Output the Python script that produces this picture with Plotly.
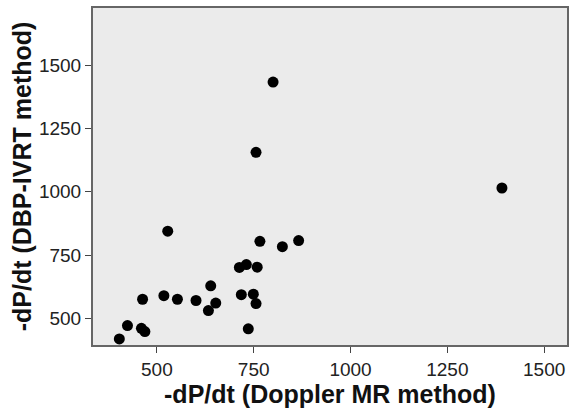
import plotly.graph_objects as go

# -dP/dt values
doppler_mr = [800, 756, 1391, 528, 766, 824, 866, 713, 731, 759, 639, 518, 463, 553,
              601, 652, 633, 718, 749, 756, 736, 424, 460, 469, 403]
dbp_ivrt = [1434, 1156, 1015, 844, 804, 783, 807, 701, 712, 702, 628, 589, 575, 575,
            570, 560, 530, 593, 595, 558, 458, 471, 460, 447, 418]

x_ticks = [500, 750, 1000, 1250, 1500]
y_ticks = [500, 750, 1000, 1250, 1500]

FONT = "Liberation Sans, Arial, sans-serif"

fig = go.Figure()
fig.add_trace(go.Scatter(
    x=doppler_mr, y=dbp_ivrt, mode="markers",
    marker=dict(color="black", size=11, line=dict(width=0)),
    showlegend=False,
))

axis_common = dict(
    showgrid=False, zeroline=False, automargin=False,
    showline=True, linecolor="#666666", linewidth=2, mirror=True,
    ticks="outside", ticklen=6, tickcolor="#444444", tickwidth=1,
    tickfont=dict(family=FONT, size=19, color="#222222"),
)

fig.update_layout(
    width=573, height=411,
    margin=dict(l=93, r=6, t=8, b=66),
    paper_bgcolor="white",
    plot_bgcolor="#ebebeb",
    xaxis=dict(
        range=[335, 1559], tickvals=x_ticks,
        title=dict(text="<b>-dP/dt (Doppler MR method)</b>", standoff=6,
                   font=dict(family=FONT, size=25, color="#111111")),
        **axis_common,
    ),
    yaxis=dict(
        range=[394, 1727], tickvals=y_ticks,
        title=dict(text="<b>-dP/dt (DBP-IVRT method)</b>", standoff=0,
                   font=dict(family=FONT, size=25, color="#111111")),
        **axis_common,
    ),
)

fig.write_html(
    "out.html",
    config={"displayModeBar": False},
    post_script="document.body.style.margin='0';document.body.style.overflow='hidden';",
)
